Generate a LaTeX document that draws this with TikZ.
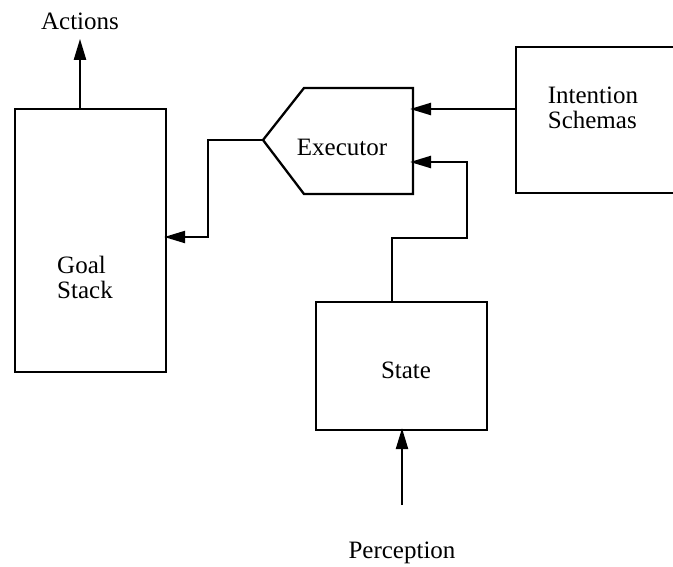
\documentclass[tikz,border=0pt]{standalone}
\usepackage{fontspec}
\setmainfont{Liberation Serif}
\usetikzlibrary{arrows.meta}
\tikzset{
  box/.style={draw,line width=2.3pt,inner sep=0pt},
  lbl/.style={font=\fontsize{25}{25}\selectfont,align=left,inner sep=0pt},
  flow/.style={line width=2.3pt,shorten >=-3pt,-{Triangle[length=21pt,width=12pt]}},
  wire/.style={line width=2.3pt}
}
\begin{document}
\begin{tikzpicture}[x=1pt,y=-1pt]
\useasboundingbox (0,0) rectangle (673,566);
\begin{scope}
% boxes
\node[box,minimum width=151pt,minimum height=263pt] (goal) at (90.5,240.5) {};
\node[lbl] (goaltxt) at (85,277) {Goal\\Stack};
\begin{scope}
\clip (0,0) rectangle (673,566);
\node[box,minimum width=190pt,minimum height=146pt] (intent) at (611,120) {};
\end{scope}
\node[lbl] (intenttxt) at (593,108) {Intention\\Schemas};
\node[box,minimum width=171pt,minimum height=128pt] (state) at (401.5,366) {};
\node[lbl] (statetxt) at (406,370) {State};
% executor
\draw[wire] (263,140) coordinate (tip) -- (304,88) -- (413,88) coordinate (ne)
  -- (413,194) -- (304,194) -- cycle;
\node[lbl] (exec) at (342,147) {Executor};
\coordinate (in1) at (413,109);
\coordinate (in2) at (413,162);
% texts outside
\node[lbl] (act) at (80,21) {Actions};
\node[lbl] (perc) at (402,553) {Perception};
% connectors
\draw[flow] (goal.north -| act) -- ++(0,-66);
\draw[flow] (tip) -- (208,140) |- (goal.east |- 0,237);
\draw[flow] (intent.west |- in1) -- (in1);
\draw[flow] (state.north -| 392,0) |- (467,238) |- (in2);
\draw[flow] (perc.north |- 0,505) -- (perc |- state.south);
\end{scope}
\end{tikzpicture}
\end{document}
